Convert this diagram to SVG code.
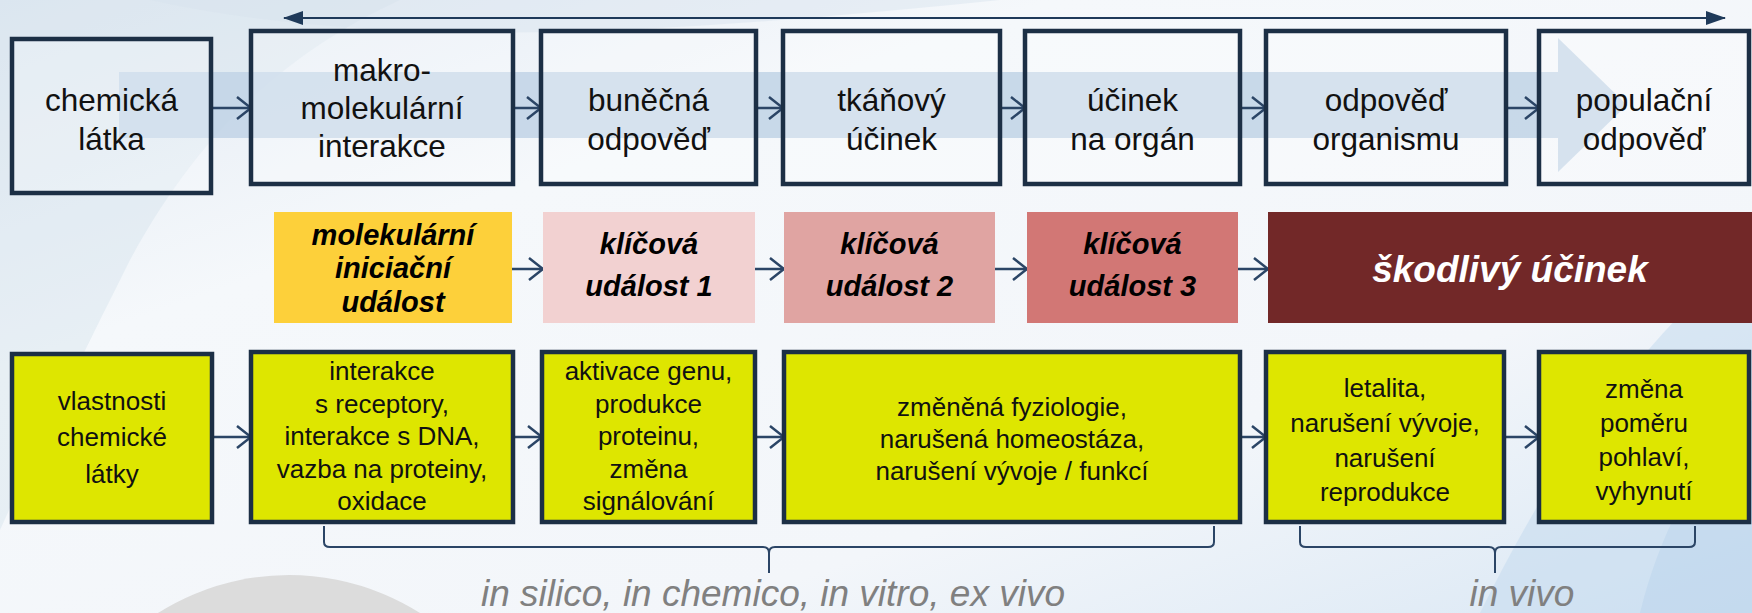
<svg xmlns="http://www.w3.org/2000/svg" width="1752" height="613" viewBox="0 0 1752 613">
<defs>
<linearGradient id="bg" x1="0" y1="0" x2="1" y2="1">
<stop offset="0" stop-color="#E2EAF3"/>
<stop offset="0.3" stop-color="#F5F8FB"/>
<stop offset="0.7" stop-color="#F3F6FA"/>
<stop offset="1" stop-color="#D9E7F4"/>
</linearGradient>
<marker id="ch" viewBox="0 0 16 24" refX="15" refY="12" markerWidth="16" markerHeight="24" markerUnits="userSpaceOnUse" orient="auto">
<path d="M1,1 L15,12 L1,23" fill="none" stroke="#2B4566" stroke-width="2.5"/>
</marker>
<marker id="tri" viewBox="0 0 20 14" refX="19" refY="7" markerWidth="20" markerHeight="14" markerUnits="userSpaceOnUse" orient="auto-start-reverse">
<path d="M0,0 L20,7 L0,14 Z" fill="#1F3A5A"/>
</marker>
<style>
.box{fill:#FFFFFF;fill-opacity:0.25;stroke:#1C2F45;stroke-width:4.5}
.gbox{fill:#DEE600;stroke:#1C2F45;stroke-width:4.5}
.t{font-family:"Liberation Sans",Arial,sans-serif;font-size:31.5px;fill:#111;text-anchor:middle}
.k{font-family:"Liberation Sans",Arial,sans-serif;font-size:29px;font-weight:bold;font-style:italic;fill:#000;text-anchor:middle}
.s{font-family:"Liberation Sans",Arial,sans-serif;font-size:26px;fill:#111;text-anchor:middle}
.lab{font-family:"Liberation Sans",Arial,sans-serif;font-size:37px;font-style:italic;fill:#808080;text-anchor:middle}
.con{stroke:#2B4566;stroke-width:2.5;fill:none}
.br{stroke:#2B4566;stroke-width:2;fill:none}
</style>
</defs>
<g id="background">
<rect x="0" y="0" width="1752" height="613" fill="url(#bg)"/>
<path d="M0,0 L400,0 C290,50 200,130 130,260 C90,340 45,430 0,530 Z" fill="#D3E0EC" opacity="0.4"/>
<path d="M150,0 C400,55 700,30 1000,0 Z" fill="#D8E3EE" opacity="0.45"/>
<path d="M1752,250 C1650,330 1560,450 1480,613 L1752,613 Z" fill="#C4DAEE" opacity="0.55"/>
<path d="M1752,400 C1700,460 1660,530 1640,613 L1752,613 Z" fill="#B9D3EB" opacity="0.45"/>
<circle cx="289" cy="820" r="245" fill="#DCDCDC"/>
</g>
<g id="band">
<path d="M119,72 L1558,72 L1558,38 L1627,105 L1558,172 L1558,138 L119,138 Z" fill="#C3D5E7" opacity="0.9"/>
</g>
<g id="scale-arrow">
<line x1="284" y1="18" x2="1725" y2="18" stroke="#1F3A5A" stroke-width="2" marker-start="url(#tri)" marker-end="url(#tri)"/>
</g>
<g id="connectors">
<line class="con" x1="211" y1="108" x2="251" y2="108" marker-end="url(#ch)"/>
<line class="con" x1="513" y1="108" x2="541" y2="108" marker-end="url(#ch)"/>
<line class="con" x1="756" y1="108" x2="783" y2="108" marker-end="url(#ch)"/>
<line class="con" x1="1000" y1="108" x2="1025" y2="108" marker-end="url(#ch)"/>
<line class="con" x1="1240" y1="108" x2="1266" y2="108" marker-end="url(#ch)"/>
<line class="con" x1="1506" y1="108" x2="1539" y2="108" marker-end="url(#ch)"/>
<line class="con" x1="512" y1="269" x2="543" y2="269" marker-end="url(#ch)"/>
<line class="con" x1="755" y1="269" x2="784" y2="269" marker-end="url(#ch)"/>
<line class="con" x1="995" y1="269" x2="1027" y2="269" marker-end="url(#ch)"/>
<line class="con" x1="1238" y1="269" x2="1268" y2="269" marker-end="url(#ch)"/>
<line class="con" x1="212" y1="437" x2="251" y2="437" marker-end="url(#ch)"/>
<line class="con" x1="513" y1="437" x2="542" y2="437" marker-end="url(#ch)"/>
<line class="con" x1="755" y1="437" x2="784" y2="437" marker-end="url(#ch)"/>
<line class="con" x1="1240" y1="437" x2="1266" y2="437" marker-end="url(#ch)"/>
<line class="con" x1="1504" y1="437" x2="1539" y2="437" marker-end="url(#ch)"/>
</g>
<g id="n-chem"><rect class="box" x="12" y="39" width="199" height="154"/>
<text class="t" x="111.5" y="111">chemická</text><text class="t" x="111.5" y="150">látka</text></g>
<g id="n-makro"><rect class="box" x="251" y="31" width="262" height="153"/>
<text class="t" x="382" y="81">makro-</text><text class="t" x="382" y="119">molekulární</text><text class="t" x="382" y="157">interakce</text></g>
<g id="n-bunecna"><rect class="box" x="541" y="31" width="215" height="153"/>
<text class="t" x="648.5" y="111">buněčná</text><text class="t" x="648.5" y="150">odpověď</text></g>
<g id="n-tkanovy"><rect class="box" x="783" y="31" width="217" height="153"/>
<text class="t" x="891.5" y="111">tkáňový</text><text class="t" x="891.5" y="150">účinek</text></g>
<g id="n-organ"><rect class="box" x="1025" y="31" width="215" height="153"/>
<text class="t" x="1132.5" y="111">účinek</text><text class="t" x="1132.5" y="150">na orgán</text></g>
<g id="n-organismus"><rect class="box" x="1266" y="31" width="240" height="153"/>
<text class="t" x="1386" y="111">odpověď</text><text class="t" x="1386" y="150">organismu</text></g>
<g id="n-populace"><rect class="box" x="1539" y="31" width="210" height="153"/>
<text class="t" x="1644" y="111">populační</text><text class="t" x="1644" y="150">odpověď</text></g>

<g id="n-mie"><rect x="274" y="212" width="238" height="111" fill="#FDD03A"/>
<text class="k" x="393" y="245">molekulární</text><text class="k" x="393" y="278">iniciační</text><text class="k" x="393" y="312">událost</text></g>
<g id="n-ke1"><rect x="543" y="212" width="212" height="111" fill="#F2D1D1"/>
<text class="k" x="649" y="254">klíčová</text><text class="k" x="649" y="296">událost 1</text></g>
<g id="n-ke2"><rect x="784" y="212" width="211" height="111" fill="#E0A4A2"/>
<text class="k" x="889.5" y="254">klíčová</text><text class="k" x="889.5" y="296">událost 2</text></g>
<g id="n-ke3"><rect x="1027" y="212" width="211" height="111" fill="#D27775"/>
<text class="k" x="1132.5" y="254">klíčová</text><text class="k" x="1132.5" y="296">událost 3</text></g>
<g id="n-ao"><rect x="1268" y="212" width="484" height="111" fill="#722828"/>
<text class="k" x="1510" y="282" style="font-size:37px;fill:#FFFFFF">škodlivý účinek</text></g>

<g id="n-vlastnosti"><rect class="gbox" x="12" y="354" width="200" height="168"/>
<text class="s" x="112" y="410">vlastnosti</text><text class="s" x="112" y="446">chemické</text><text class="s" x="112" y="483">látky</text></g>
<g id="n-interakce"><rect class="gbox" x="251" y="352" width="262" height="170"/>
<text class="s" x="382" y="380">interakce</text><text class="s" x="382" y="413">s receptory,</text><text class="s" x="382" y="445">interakce s DNA,</text><text class="s" x="382" y="478">vazba na proteiny,</text><text class="s" x="382" y="510">oxidace</text></g>
<g id="n-aktivace"><rect class="gbox" x="542" y="352" width="213" height="170"/>
<text class="s" x="648.5" y="380">aktivace genu,</text><text class="s" x="648.5" y="413">produkce</text><text class="s" x="648.5" y="445">proteinu,</text><text class="s" x="648.5" y="478">změna</text><text class="s" x="648.5" y="510">signálování</text></g>
<g id="n-fyziologie"><rect class="gbox" x="784" y="352" width="456" height="170"/>
<text class="s" x="1012" y="416">změněná fyziologie,</text><text class="s" x="1012" y="448">narušená homeostáza,</text><text class="s" x="1012" y="480">narušení vývoje / funkcí</text></g>
<g id="n-letalita"><rect class="gbox" x="1266" y="352" width="238" height="170"/>
<text class="s" x="1385" y="397">letalita,</text><text class="s" x="1385" y="432">narušení vývoje,</text><text class="s" x="1385" y="467">narušení</text><text class="s" x="1385" y="501">reprodukce</text></g>
<g id="n-pomer"><rect class="gbox" x="1539" y="352" width="210" height="170"/>
<text class="s" x="1644" y="398">změna</text><text class="s" x="1644" y="432">poměru</text><text class="s" x="1644" y="466">pohlaví,</text><text class="s" x="1644" y="500">vyhynutí</text></g>

<g id="braces">
<path class="br" d="M324,526 L324,542 Q324,547 330,547 L763,547 Q769,547 769,553 L769,573 M769,553 Q769,547 775,547 L1208,547 Q1214,547 1214,542 L1214,526"/>
<path class="br" d="M1300,526 L1300,542 Q1300,547 1306,547 L1489,547 Q1495,547 1495,553 L1495,573 M1495,553 Q1495,547 1501,547 L1689,547 Q1695,547 1695,542 L1695,526"/>
<text class="lab" x="773" y="606">in silico, in chemico, in vitro, ex vivo</text>
<text class="lab" x="1522" y="606">in vivo</text>
</g>
</svg>
